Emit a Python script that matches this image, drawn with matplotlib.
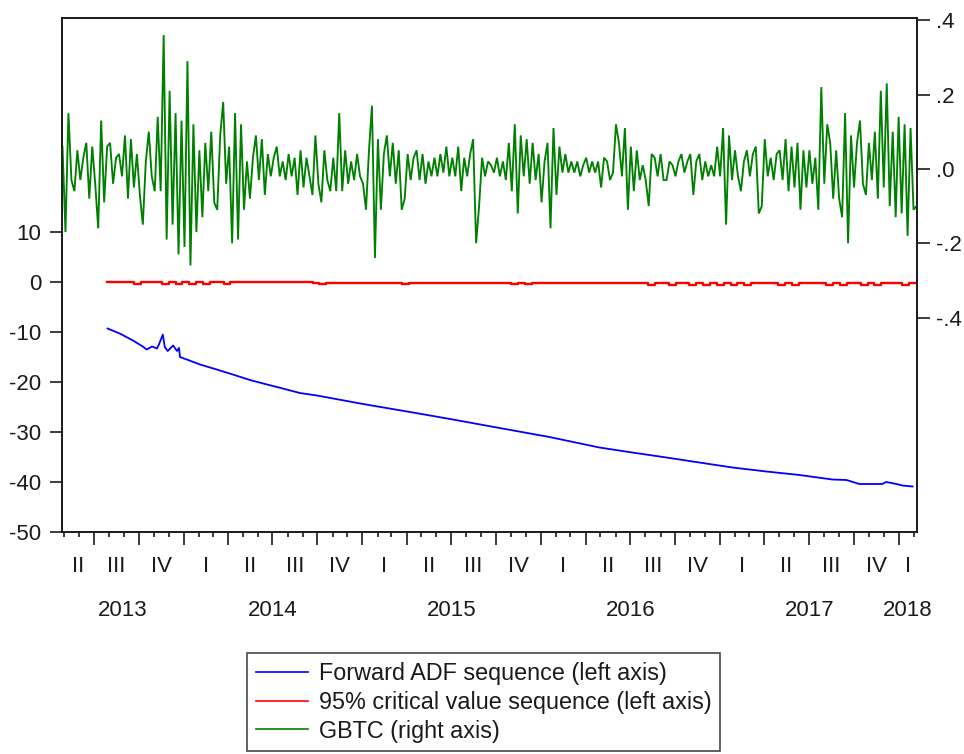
import numpy as np
import pandas as pd
import matplotlib
matplotlib.use('Agg')
import matplotlib.pyplot as plt
import matplotlib.dates as mdates
import matplotlib.transforms as mtrans

plt.rcParams['font.family'] = ['Liberation Sans', 'DejaVu Sans']

# GBTC returns (right axis), in percent left to right
gbtc_pct = [
    6, -17, 15, -3, -6, 5, -3, 3, 7, -8,
    6, -4, -16, 13, -9, 6, 7, -4, 3, 4,
    -2, 9, -8, 8, -5, 4, -7, -15, 2, 10,
    -2, -6, 14, -6, 36, -19, 21, -15, 15, -23,
    13, -21, 29, -26, 12, -17, 5, -13, 7, -6,
    10, -9, -11, 9, 18, -4, 6, -20, 15, -19,
    12, -11, 2, -8, 3, 9, -3, 8, -7, 4,
    -2, 3,
    6, -2, 2, -3, 4, -2, 3, -7, 5, -5,
    3, -2, -7, 9, -4, -9, 5, -3, -6, 3,
    -6, 15, -6, 5, -4, 2, -3, 4, -2, -4,
    -11, 5, 17, -24, 8, -11, 4, 9, -2, 7,
    -4, 5, -11, -8, 4, -3, 3, 5, -3, 4,
    -4, 2, -2, 3, -2, 4, -1, 6, -2, 3,
    -2, 6, -6, 3, -2, 4, 8, -20, -10, 3,
    -2, 2,
    1, -1, 3, -2, 2, -3, 7, -6, 12, -12,
    9, -2, 8, -4, 7, -3, 4, -9, 2, 7,
    -16, 11, -7, 6, -1, 4, -1, 2, -1, 2,
    -2, 1, 3, -1, 2, -1, 2, -5, 3, 2,
    -3, -1, 12, 7, -2, 11, -11, 6, -6, 5,
    -3, 1, -3, -10, 4, 3, -2, 4, -3, -3,
    2, 1, -2, 2, 4, -1, 2, 4, -7, 2,
    4, -3,
    2, -2, 1, -2, 6, -2, 11, -15, 9, -3,
    5, -2, -6, 2, 5, -2, 4, 6, -12, -10,
    8, -2, 3, -3, 4, 5, -3, 8, -6, 6,
    -5, 7, -11, 5, -5, 5, -4, 3, -11, 22,
    -4, 12, 7, -8, 5, -8, -13, 15, -20, 9,
    -5, 7, 13, -4, -7, 7, -3, 10, -8, 21,
    -5, 23, -10, 10, -13, 14, -12, 12, -18, 11,
    -11, -10,
]
gbtc_first, gbtc_last = '2013-04-28', '2018-02-06'

# Forward ADF sequence (left axis)
adf_dates = [
    '2013-07-29', '2013-08-23', '2013-09-19', '2013-10-09', '2013-10-17',
    '2013-10-28', '2013-11-07', '2013-11-11', '2013-11-19', '2013-11-23',
    '2013-11-29', '2013-12-10', '2013-12-18', '2013-12-22', '2013-12-24',
    '2014-01-07', '2014-02-03', '2014-03-09', '2014-04-11', '2014-05-16',
    '2014-06-20', '2014-07-22', '2014-08-26', '2014-09-30', '2015-01-02',
    '2015-04-08', '2015-06-29', '2015-10-08', '2016-01-18', '2016-04-29',
    '2016-07-05', '2016-09-13', '2016-11-19', '2017-01-26', '2017-04-05',
    '2017-06-12', '2017-08-18', '2017-09-16', '2017-10-12', '2017-11-28',
    '2017-12-06', '2017-12-27', '2018-01-08', '2018-01-29',
]
adf_values = [
    -9.3, -10.3, -11.7, -12.9, -13.5,
    -12.9, -13.3, -12.5, -10.5, -13.0,
    -13.8, -12.7, -13.8, -13.2, -15.0,
    -15.5, -16.5, -17.5, -18.5, -19.6,
    -20.5, -21.3, -22.2, -22.7, -24.4,
    -26.0, -27.4, -29.2, -31.0, -33.1,
    -34.1, -35.1, -36.1, -37.1, -37.9,
    -38.6, -39.5, -39.6, -40.4, -40.4,
    -40.0, -40.4, -40.7, -40.9,
]

# 95% critical value sequence (left axis), every 14 days
cv_first = '2013-07-28'
cv_values = [
    -0.05, -0.05, -0.05, -0.05, -0.45, -0.05, -0.05, -0.05, -0.45, -0.05,
    -0.45, -0.05, -0.45, -0.05, -0.45, -0.05, -0.05, -0.45, -0.05, -0.05,
    -0.05, -0.05, -0.05, -0.05, -0.05, -0.05, -0.05, -0.05, -0.05, -0.05,
    -0.1, -0.45, -0.1, -0.1, -0.1, -0.1, -0.1, -0.1, -0.1, -0.1,
    -0.1, -0.1, -0.1, -0.45, -0.1, -0.1, -0.1, -0.1, -0.1, -0.1,
    -0.1, -0.1, -0.1, -0.1, -0.1, -0.1, -0.1, -0.1, -0.1, -0.45,
    -0.1, -0.45, -0.1, -0.1, -0.1, -0.1, -0.1, -0.1, -0.1, -0.1,
    -0.15, -0.15, -0.15, -0.15, -0.15, -0.15, -0.15, -0.15, -0.15, -0.5,
    -0.15, -0.15, -0.5, -0.15, -0.15, -0.5, -0.15, -0.5, -0.15, -0.5,
    -0.15, -0.5, -0.15, -0.5, -0.15, -0.15, -0.15, -0.15, -0.5, -0.15,
    -0.5, -0.15, -0.15, -0.15, -0.15, -0.5, -0.15, -0.5, -0.15, -0.15,
    -0.5, -0.15, -0.5, -0.15, -0.15, -0.15, -0.5, -0.15, -0.15,
]

left_ticks = [10, 0, -10, -20, -30, -40, -50]
right_ticks = [0.4, 0.2, 0.0, -0.2, -0.4]
right_labels = ['.4', '.2', '.0', '-.2', '-.4']
quarter_names = ['I', 'II', 'III', 'IV']
x_range = ('2013-04-27', '2018-02-07')

ink = '#1a1a1a'

fig = plt.figure(figsize=(9.64, 7.54), dpi=100)
ax = fig.add_axes([62 / 964, 1 - 532 / 754, (917 - 62) / 964, (532 - 18) / 754])
ax2 = ax.twinx()

x0 = mdates.datestr2num(x_range[0])
x1 = mdates.datestr2num(x_range[1])

# series
adf_x = mdates.date2num(pd.to_datetime(adf_dates))
ax.plot(adf_x, adf_values, color='#0000ff', lw=1.3)

cv_x = mdates.date2num(pd.date_range(cv_first, periods=len(cv_values), freq='14D'))
ax.plot(cv_x, cv_values, color='#ff0000', lw=1.7, drawstyle='steps-post')

g_x = np.linspace(mdates.datestr2num(gbtc_first), mdates.datestr2num(gbtc_last), len(gbtc_pct))
ax2.plot(g_x, np.array(gbtc_pct) / 100.0, color='#008000', lw=1.35, solid_joinstyle='miter')

# axes limits and ticks
ax.set_xlim(x0, x1)
ax.set_ylim(-50, 52.8)
ax2.set_ylim(-0.977, 0.406)

ax.set_yticks(left_ticks)
ax.set_yticklabels([str(t) for t in left_ticks])
ax2.set_yticks(right_ticks)
ax2.set_yticklabels(right_labels)

q_starts = pd.date_range('2013-01-01', '2018-04-01', freq='QS')
m_starts = pd.date_range('2013-01-01', '2018-04-01', freq='MS')
q_num = [mdates.date2num(d) for d in q_starts]
m_num = [mdates.date2num(d) for d in m_starts]
ax.set_xticks([v for v in q_num if x0 <= v <= x1])
ax.set_xticks([v for v in m_num if x0 <= v <= x1], minor=True)
ax.set_xticklabels([])

for a in (ax, ax2):
    for s in a.spines.values():
        s.set_linewidth(1.2)
        s.set_color(ink)

ax.tick_params(axis='y', direction='out', length=9, width=1.2, pad=6,
               labelsize=16, colors=ink, right=False)
ax2.tick_params(axis='y', direction='out', length=9, width=1.2, pad=5,
                labelsize=16, colors=ink, left=False)
ax.tick_params(axis='x', which='major', direction='out', length=9.5, width=1.2, colors=ink)
ax.tick_params(axis='x', which='minor', direction='out', length=3.8, width=1.2, colors=ink)
ax2.tick_params(axis='x', which='both', bottom=False, top=False)

# quarter and year labels under the axis
trans = mtrans.blended_transform_factory(ax.transData, ax.transAxes)
for i in range(len(q_num) - 1):
    lo, hi = max(q_num[i], x0), min(q_num[i + 1], x1)
    if hi <= lo:
        continue
    ax.text((lo + hi) / 2, -0.068, quarter_names[q_starts[i].quarter - 1], transform=trans,
            ha='center', va='center', fontsize=16, color=ink)

for yr in range(2013, 2019):
    lo = max(mdates.datestr2num(f'{yr}-01-01'), x0)
    hi = min(mdates.datestr2num(f'{yr + 1}-01-01'), x1)
    ax.text((lo + hi) / 2, -0.152, str(yr), transform=trans,
            ha='center', va='center', fontsize=16, color=ink)

# legend
handles = [
    plt.Line2D([], [], color='#0000ff', lw=1.2),
    plt.Line2D([], [], color='#ff0000', lw=1.2),
    plt.Line2D([], [], color='#008000', lw=1.2),
]
labels = [
    'Forward ADF sequence (left axis)',
    '95% critical value sequence (left axis)',
    'GBTC (right axis)',
]
leg = fig.legend(handles, labels, loc='upper left',
                 bbox_to_anchor=(247 / 964, 1 - 653 / 754), bbox_transform=fig.transFigure,
                 fontsize=16.8, frameon=True, fancybox=False, shadow=False,
                 borderaxespad=0, borderpad=0.38, handlelength=2.25, handletextpad=0.45,
                 labelspacing=0.25)
leg.get_frame().set_edgecolor(ink)
leg.get_frame().set_linewidth(1.2)
for t in leg.get_texts():
    t.set_color(ink)

fig.savefig('out.png', dpi=100)
